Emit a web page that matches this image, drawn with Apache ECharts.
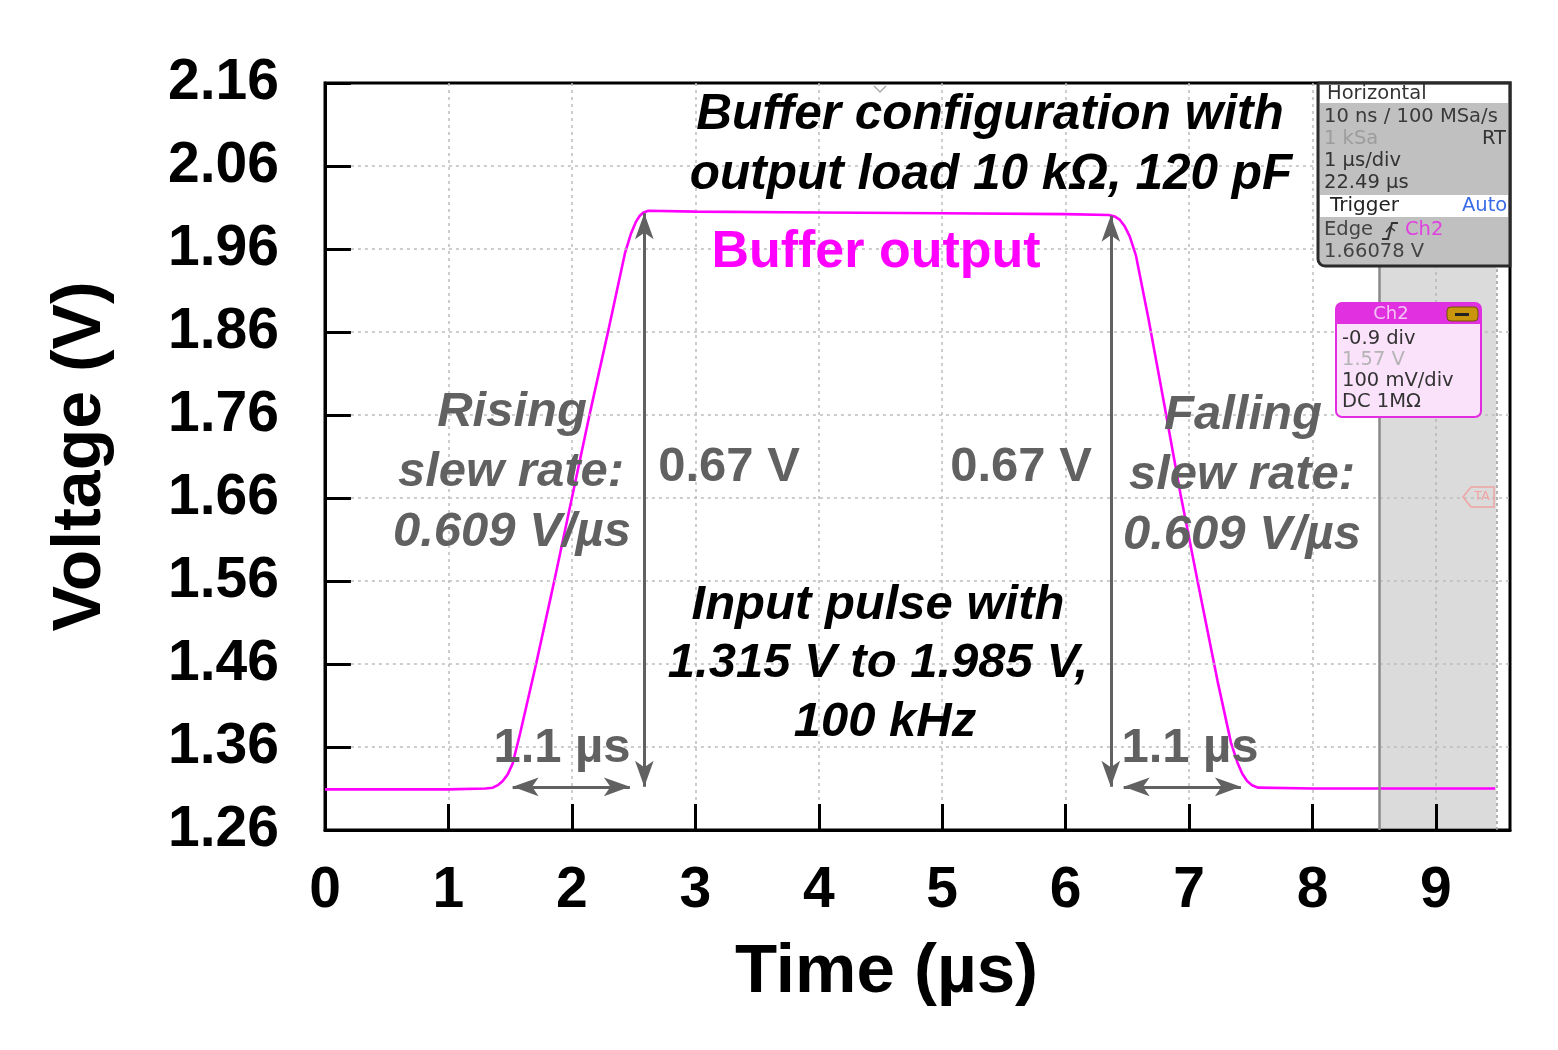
<!DOCTYPE html>
<html>
<head>
<meta charset="utf-8">
<script src="https://cdn.jsdelivr.net/npm/echarts@6/dist/echarts.min.js"></script>
<style>
html,body{margin:0;padding:0;background:#fff;}
#chart{width:1558px;height:1050px;}
</style>
</head>
<body>
<div id="chart"></div>
<script>
// ---- data ----
const timeUs = [0, 0.5, 1.0, 1.30, 1.36, 1.40, 1.44, 1.48, 1.52, 1.58, 1.71, 1.85, 2.00, 2.15, 2.30, 2.43, 2.48, 2.52, 2.55, 2.58, 2.62,
  3.0, 4.0, 5.0, 6.0, 6.35, 6.40, 6.44, 6.48, 6.52, 6.57, 6.67, 6.80, 6.93, 7.07, 7.23, 7.34, 7.39, 7.43, 7.47, 7.51, 7.56, 8.0, 9.0, 9.48];
const voltV = [1.309, 1.309, 1.309, 1.310, 1.311, 1.314, 1.319, 1.327, 1.340, 1.376, 1.460, 1.555, 1.660, 1.765, 1.865, 1.955, 1.979, 1.993, 2.000, 2.004, 2.006,
  2.005, 2.004, 2.003, 2.002, 2.001, 1.999, 1.995, 1.987, 1.975, 1.952, 1.877, 1.772, 1.665, 1.559, 1.440, 1.365, 1.342, 1.328, 1.319, 1.314, 1.311, 1.310, 1.310, 1.310];
const xTicks = [0, 1, 2, 3, 4, 5, 6, 7, 8, 9];
const yTicks = [1.26, 1.36, 1.46, 1.56, 1.66, 1.76, 1.86, 1.96, 2.06, 2.16];
const yGridLines = [1.36, 1.46, 1.56, 1.66, 1.76, 1.86, 1.96, 2.06];
// dimension arrows: [t1, v1, t2, v2]
const arrowSegs = [
  [2.587, 2.003, 2.587, 1.312],
  [6.366, 2.000, 6.366, 1.312],
  [1.52, 1.312, 2.47, 1.312],
  [6.47, 1.312, 7.42, 1.312]
];
// scope display shaded zone (µs)
const shadeZone = [8.54, 9.49];
// inward y tick length, expressed in axis units (µs)
const yTickLenUs = 0.21;

const chart = echarts.init(document.getElementById('chart'), null, {renderer: 'canvas'});
const ARIAL = '"Liberation Sans", Arial, sans-serif';
const VERD = '"DejaVu Sans", Verdana, sans-serif';
const GRAY = '#616161';

function txt(text, x, y, size, color, italic, align) {
  return {
    type: 'text', z: 100,
    style: {
      text: text, x: x, y: y,
      fontSize: size, fontWeight: 'bold', fontStyle: italic ? 'italic' : 'normal',
      fontFamily: ARIAL, fill: color,
      align: align || 'center', verticalAlign: 'middle'
    }
  };
}
function small(text, x, y, color, align, extra) {
  const s = {text: text, x: x, y: y, fontSize: 19.5, fontFamily: VERD, fill: color,
    align: align || 'left', verticalAlign: 'middle'};
  if (extra) Object.assign(s, extra);
  return {type: 'text', z: 120, style: s};
}

const graphics = [
  txt('Buffer configuration with', 990, 115, 49.5, '#000', true),
  txt('output load 10 k\u03A9, 120 pF', 991, 175, 49.5, '#000', true),
  txt('Buffer output', 876, 253, 52, '#ff00ff', false),
  txt('Rising', 512, 412, 49, GRAY, true),
  txt('slew rate:', 511, 472, 49, GRAY, true),
  txt('0.609 V/\u00B5s', 512, 532, 49, GRAY, true),
  txt('0.67 V', 729, 467, 49, GRAY, false),
  txt('0.67 V', 1021, 467, 49, GRAY, false),
  txt('Falling', 1243, 415, 49, GRAY, true),
  txt('slew rate:', 1242, 475, 49, GRAY, true),
  txt('0.609 V/\u00B5s', 1242, 535, 49, GRAY, true),
  txt('Input pulse with', 878, 605, 49, '#000', true),
  txt('1.315 V to 1.985 V,', 878, 663, 49, '#000', true),
  txt('100 kHz', 885, 722, 49, '#000', true),
  txt('1.1 \u00B5s', 562, 748, 49, GRAY, false),
  txt('1.1 \u00B5s', 1190, 748, 49, GRAY, false),
  // Horizontal / Trigger info box
  {type: 'rect', z: 110, shape: {x: 1318, y: 83, width: 192, height: 183, r: [0, 0, 0, 7]},
    style: {fill: '#c0c0c0', stroke: '#2a2a2a', lineWidth: 3}},
  {type: 'rect', z: 111, shape: {x: 1320, y: 85, width: 188, height: 18}, style: {fill: '#ffffff'}},
  {type: 'rect', z: 111, shape: {x: 1320, y: 195, width: 188, height: 22}, style: {fill: '#ffffff'}},
  small('Horizontal', 1327, 94, '#333'),
  small('10 ns / 100 MSa/s', 1324, 117, '#3a3a3a', 'left', {width: 184, overflow: 'truncate', ellipsis: ''}),
  small('1 kSa', 1324, 139, '#9c9c9c'),
  small('RT', 1506, 139, '#333', 'right'),
  small('1 \u00B5s/div', 1324, 161, '#333'),
  small('22.49 \u00B5s', 1324, 183, '#333'),
  small('Trigger', 1330, 206, '#222', 'left', {fontSize: 20}),
  small('Auto', 1462, 206, '#3a6be8'),
  small('Edge', 1324, 230, '#444'),
  {type: 'polyline', z: 120, shape: {points: [[1382, 239], [1388, 239], [1392, 223], [1398, 223]]},
    style: {stroke: '#333', lineWidth: 2, fill: null}},
  {type: 'polyline', z: 120, shape: {points: [[1386, 232], [1390, 227], [1395, 231]]},
    style: {stroke: '#333', lineWidth: 1.5, fill: null}},
  small('Ch2', 1405, 230, '#e040e0'),
  small('1.66078 V', 1324, 252, '#444'),
  // Ch2 box
  {type: 'rect', z: 110, shape: {x: 1336, y: 303, width: 145, height: 114, r: 6},
    style: {fill: '#fbe2fb', stroke: '#e22ce2', lineWidth: 2}},
  {type: 'rect', z: 111, shape: {x: 1336, y: 303, width: 145, height: 21, r: [6, 6, 0, 0]},
    style: {fill: '#e030e0'}},
  small('Ch2', 1391, 314, '#f5c2f5', 'center', {fontSize: 18}),
  {type: 'rect', z: 112, shape: {x: 1447, y: 307, width: 31, height: 14, r: 4},
    style: {fill: '#c9950c', stroke: '#6e5200', lineWidth: 1}},
  {type: 'rect', z: 113, shape: {x: 1455, y: 313, width: 14, height: 3}, style: {fill: '#222'}},
  small('-0.9 div', 1342, 339, '#333'),
  small('1.57 V', 1342, 360, '#b4b4b4'),
  small('100 mV/div', 1342, 381, '#333'),
  small('DC 1M\u03A9', 1342, 402, '#333'),
  // TA marker
  {type: 'polygon', z: 105, shape: {points: [[1463, 497], [1471, 487], [1494, 487], [1494, 507], [1471, 507]]},
    style: {fill: null, stroke: '#f0a4a4', lineWidth: 1.5}},
  {type: 'text', z: 106, style: {text: 'TA', x: 1482, y: 497, fontSize: 13, fontFamily: VERD, fill: '#f0a4a4',
    align: 'center', verticalAlign: 'middle'}},
  // trigger position marker at top
  {type: 'polyline', z: 105, shape: {points: [[874, 86], [880, 92], [886, 86]]},
    style: {stroke: '#aaaaaa', lineWidth: 1.5, fill: null}}
];

const option = {
  animation: false,
  backgroundColor: '#ffffff',
  grid: {left: 325, right: 48, top: 83, bottom: 220, show: true, borderColor: '#000', borderWidth: 3,
    backgroundColor: 'transparent', containLabel: false},
  xAxis: {
    type: 'value', min: 0, max: 9.6, interval: 1, z: 1,
    axisLine: {show: true, lineStyle: {color: '#000', width: 3}},
    axisTick: {show: true, inside: true, length: 26, lineStyle: {color: '#000', width: 3},
      customValues: xTicks},
    axisLabel: {customValues: xTicks, fontSize: 57, fontWeight: 'bold', fontFamily: ARIAL, color: '#000', margin: 33,
      formatter: v => String(v)},
    splitLine: {show: true, lineStyle: {color: '#bdbdbd', width: 1.5, type: [3, 4]}},
    name: 'Time (\u00B5s)', nameLocation: 'middle', nameGap: 108,
    nameTextStyle: {fontSize: 69, fontWeight: 'bold', fontFamily: ARIAL, color: '#000', padding: [0, 62, 0, 0]}
  },
  yAxis: {
    type: 'value', min: 1.26, max: 2.16, z: 1,
    axisLine: {show: true, lineStyle: {color: '#000', width: 3}},
    axisTick: {show: false},
    axisLabel: {customValues: yTicks, fontSize: 57, fontWeight: 'bold', fontFamily: ARIAL, color: '#000', margin: 46,
      formatter: v => Number(v).toFixed(2)},
    splitLine: {show: false},
    name: 'Voltage (V)', nameLocation: 'middle', nameGap: 210, nameRotate: 90,
    nameTextStyle: {fontSize: 68, fontWeight: 'bold', fontFamily: ARIAL, color: '#000'}
  },
  series: [
    {
      name: 'grid', type: 'line', data: [], z: 0, silent: true,
      markLine: {
        silent: true, symbol: ['none', 'none'], animation: false,
        label: {show: false},
        lineStyle: {color: '#bdbdbd', width: 1.5, type: [3, 4]},
        emphasis: {disabled: true},
        data: yGridLines.map(v => [{coord: [yTickLenUs, v]}, {coord: [9.6, v]}])
      }
    },
    {
      name: 'yticks', type: 'line', data: [], z: 5, silent: true,
      markLine: {
        silent: true, symbol: ['none', 'none'], animation: false,
        label: {show: false}, emphasis: {disabled: true},
        lineStyle: {color: '#000', width: 3, type: 'solid'},
        data: yTicks.map(v => [{coord: [0, v]}, {coord: [yTickLenUs, v]}])
      }
    },
    {
      name: 'Buffer output', type: 'line', z: 3, showSymbol: false, symbol: 'none', smooth: false,
      lineStyle: {color: '#ff00ff', width: 2.6},
      data: timeUs.map((t, i) => [t, voltV[i]])
    },
    {
      name: 'arrows', type: 'line', data: [], z: 4, silent: true,
      markLine: {
        silent: true, symbol: ['arrow', 'arrow'], symbolSize: [14, 26], animation: false,
        label: {show: false}, emphasis: {disabled: true},
        lineStyle: {color: '#616161', width: 3, type: 'solid'},
        itemStyle: {color: '#616161'},
        data: arrowSegs.map(s => [{coord: [s[0], s[1]]}, {coord: [s[2], s[3]]}])
      }
    },
    {
      name: 'overlay', type: 'line', data: [], z: 6, silent: true,
      markArea: {
        silent: true, itemStyle: {color: 'rgba(175,175,175,0.45)'},
        data: [[{xAxis: shadeZone[0]}, {xAxis: shadeZone[1]}]]
      },
      markLine: {
        silent: true, symbol: ['none', 'none'], animation: false, label: {show: false},
        emphasis: {disabled: true},
        data: [
          {xAxis: shadeZone[0], lineStyle: {color: '#8a8a8a', width: 2.5, type: 'solid'}},
          {xAxis: shadeZone[1], lineStyle: {color: '#9a9a9a', width: 1.5, type: [3, 3]}}
        ]
      }
    }
  ],
  graphic: graphics
};
chart.setOption(option);
</script>
</body>
</html>
